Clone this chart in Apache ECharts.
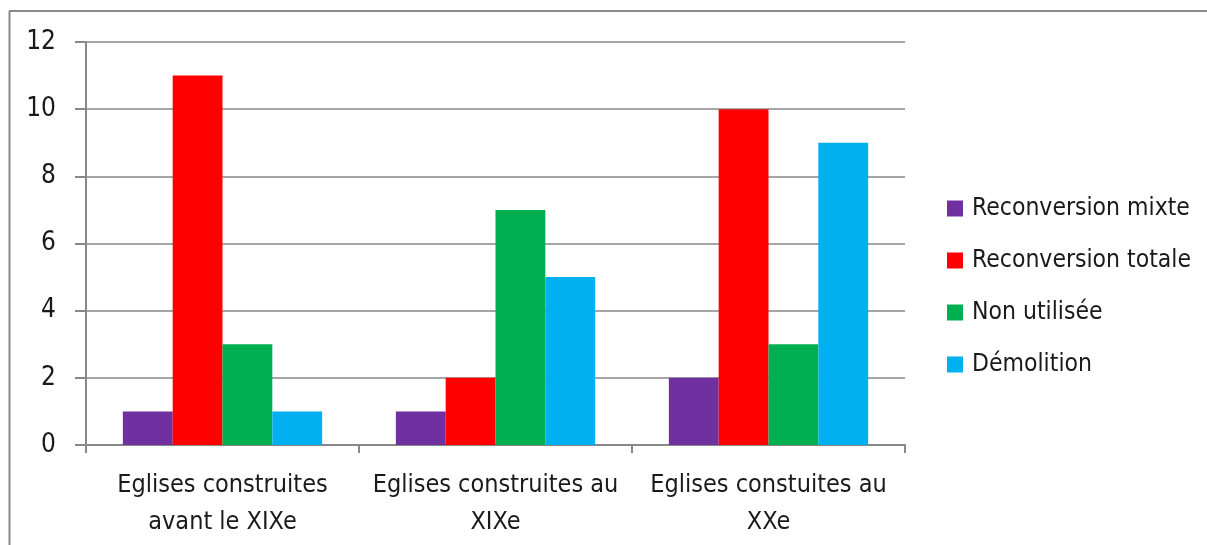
<!DOCTYPE html>
<html><head><meta charset="utf-8">
<script src="https://cdn.jsdelivr.net/npm/echarts@6/dist/echarts.min.js"></script>
<style>html,body{margin:0;padding:0;background:#fff}#c{width:1207px;height:545px}</style>
</head><body><div id="c"></div>
<script>
const categories = ['Eglises construites\navant le XIXe', 'Eglises construites au\nXIXe', 'Eglises constuites au\nXXe'];
const seriesNames = ['Reconversion mixte', 'Reconversion totale', 'Non utilisée', 'Démolition'];
const reconversionMixte = [1, 1, 2];
const reconversionTotale = [11, 2, 10];
const nonUtilisee = [3, 7, 3];
const demolition = [1, 5, 9];
const colors = ['#7030A0', '#FF0000', '#00B050', '#00B0F0'];
const yTicks = {min: 0, max: 12, interval: 2};

const FONT = '"Liberation Sans Narrow", "DejaVu Sans Condensed", sans-serif';
const values = [reconversionMixte, reconversionTotale, nonUtilisee, demolition];
const chart = echarts.init(document.getElementById('c'));
chart.setOption({
  animation: false,
  backgroundColor: '#fff',
  textStyle: {fontFamily: FONT},
  grid: {left: 86, top: 42, right: 302, bottom: 100, containLabel: false},
  legend: {
    orient: 'vertical', left: 947, top: 196, itemGap: 27, padding: 0,
    itemWidth: 16, itemHeight: 16, icon: 'rect',
    textStyle: {fontFamily: FONT, fontSize: 24.5, color: '#1a1a1a', padding: [0,0,0,4]},
    data: seriesNames
  },
  xAxis: {
    type: 'category', data: categories,
    axisLine: {lineStyle: {color: '#888', width: 2}},
    axisTick: {show: true, length: 8, lineStyle: {color: '#888', width: 2}},
    axisLabel: {fontFamily: FONT, fontSize: 25, color: '#1a1a1a', margin: 22, lineHeight: 37, interval: 0}
  },
  yAxis: {
    type: 'value', min: yTicks.min, max: yTicks.max, interval: yTicks.interval,
    axisLine: {show: true, lineStyle: {color: '#888', width: 2}},
    axisTick: {show: true, length: 11, lineStyle: {color: '#888', width: 2}},
    splitLine: {lineStyle: {color: '#888', width: 1.5}},
    axisLabel: {fontFamily: FONT, fontSize: 26, color: '#1a1a1a', margin: 30}
  },
  series: seriesNames.map((n, i) => ({
    name: n, type: 'bar', data: values[i],
    barGap: '0%', barCategoryGap: '27%',
    itemStyle: {color: colors[i]}
  })),
  graphic: [
    {type: 'line', shape: {x1: 9.5, y1: 11, x2: 9.5, y2: 545}, style: {stroke: '#898989', lineWidth: 2}},
    {type: 'line', shape: {x1: 9, y1: 11, x2: 1207, y2: 11}, style: {stroke: '#898989', lineWidth: 2}}
  ]
});
</script></body></html>
